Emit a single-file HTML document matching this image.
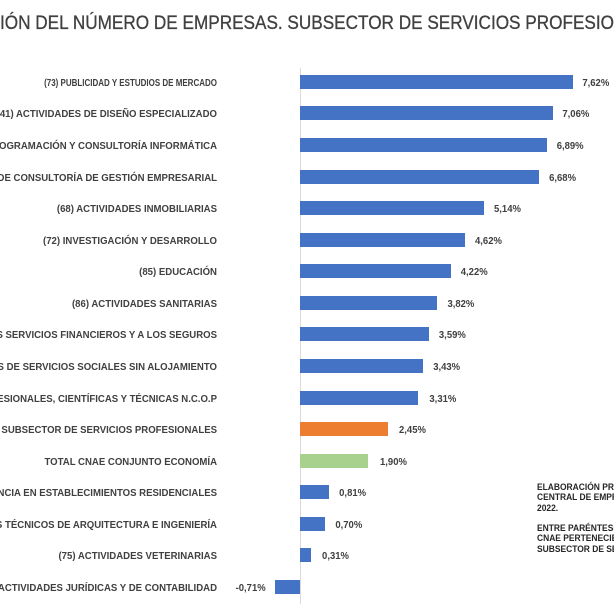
<!DOCTYPE html>
<html><head><meta charset="utf-8"><style>
html,body{margin:0;padding:0;background:#fff;width:614px;height:614px;overflow:hidden}
svg{display:block;font-family:"Liberation Sans",sans-serif;font-weight:bold}
</style></head><body>
<svg width="614" height="614" viewBox="0 0 614 614">
<text x="0" y="29" font-size="19" fill="#404040" font-weight="normal" stroke="#404040" stroke-width="0.3" textLength="614" lengthAdjust="spacingAndGlyphs">IÓN DEL NÚMERO DE EMPRESAS. SUBSECTOR DE SERVICIOS PROFESIO</text>
<line x1="300.5" y1="68" x2="300.5" y2="604" stroke="#d9d9d9"/>
<g font-size="10" fill="#404040">
<g transform="translate(217,0) scale(0.8,1)" text-anchor="end">
<text x="0" y="86">(73) PUBLICIDAD Y ESTUDIOS DE MERCADO</text>
</g>
<g transform="translate(217,0) scale(0.96,1)" text-anchor="end">
<text x="0" y="117">(741) ACTIVIDADES DE DISEÑO ESPECIALIZADO</text>
<text x="0" y="149">(62) PROGRAMACIÓN Y CONSULTORÍA INFORMÁTICA</text>
<text x="0" y="181">(702) ACTIVIDADES DE CONSULTORÍA DE GESTIÓN EMPRESARIAL</text>
<text x="0" y="212">(68) ACTIVIDADES INMOBILIARIAS</text>
<text x="0" y="244">(72) INVESTIGACIÓN Y DESARROLLO</text>
<text x="0" y="275">(85) EDUCACIÓN</text>
<text x="0" y="307">(86) ACTIVIDADES SANITARIAS</text>
<text x="0" y="338">(66) ACTIVIDADES AUXILIARES A LOS SERVICIOS FINANCIEROS Y A LOS SEGUROS</text>
<text x="0" y="370">(88) ACTIVIDADES DE SERVICIOS SOCIALES SIN ALOJAMIENTO</text>
<text x="0" y="402">(74) OTRAS ACTIVIDADES PROFESIONALES, CIENTÍFICAS Y TÉCNICAS N.C.O.P</text>
<text x="0" y="433">TOTAL SUBSECTOR DE SERVICIOS PROFESIONALES</text>
<text x="0" y="465">TOTAL CNAE CONJUNTO ECONOMÍA</text>
<text x="0" y="496">(87) ASISTENCIA EN ESTABLECIMIENTOS RESIDENCIALES</text>
<text x="0" y="528">(71) SERVICIOS TÉCNICOS DE ARQUITECTURA E INGENIERÍA</text>
<text x="0" y="559">(75) ACTIVIDADES VETERINARIAS</text>
<text x="0" y="591">(69) ACTIVIDADES JURÍDICAS Y DE CONTABILIDAD</text>
</g>
<g fill="#4472c4">
<rect x="300" y="75" width="273" height="14"/>
<rect x="300" y="106" width="253" height="14"/>
<rect x="300" y="138" width="247" height="14"/>
<rect x="300" y="170" width="239" height="14"/>
<rect x="300" y="201" width="184" height="14"/>
<rect x="300" y="233" width="165" height="14"/>
<rect x="300" y="264" width="151" height="14"/>
<rect x="300" y="296" width="137" height="14"/>
<rect x="300" y="327" width="129" height="14"/>
<rect x="300" y="359" width="123" height="14"/>
<rect x="300" y="391" width="118" height="14"/>
<rect x="300" y="422" width="88" height="14" fill="#ed7d31"/>
<rect x="300" y="454" width="68" height="14" fill="#a9d18e"/>
<rect x="300" y="485" width="29" height="14"/>
<rect x="300" y="517" width="25" height="14"/>
<rect x="300" y="548" width="11" height="14"/>
<rect x="275" y="580" width="25" height="14"/>
</g>
<g transform="scale(0.95,1)">
<text x="613" y="86">7,62%</text>
<text x="592" y="117">7,06%</text>
<text x="586" y="149">6,89%</text>
<text x="578" y="181">6,68%</text>
<text x="520" y="212">5,14%</text>
<text x="500" y="244">4,62%</text>
<text x="485" y="275">4,22%</text>
<text x="471" y="307">3,82%</text>
<text x="462" y="338">3,59%</text>
<text x="456" y="370">3,43%</text>
<text x="452" y="402">3,31%</text>
<text x="420" y="433">2,45%</text>
<text x="400" y="465">1,90%</text>
<text x="357" y="496">0,81%</text>
<text x="353" y="528">0,70%</text>
<text x="339" y="559">0,31%</text>
<text x="248" y="591">-0,71%</text>
</g>
</g>
<g font-size="9" fill="#262626" transform="translate(537,0) scale(0.94,1)">
<text x="0" y="490">ELABORACIÓN PROPIA A PARTIR DEL DIRECTORIO</text>
<text x="0" y="500">CENTRAL DE EMPRESAS (DIRCE) DEL INE 2017-</text>
<text x="0" y="511">2022.</text>
<text x="0" y="531">ENTRE PARÉNTESIS SE INDICAN LAS DIVISIONES</text>
<text x="0" y="541">CNAE PERTENECIENTES AL</text>
<text x="0" y="552">SUBSECTOR DE SERVICIOS PROFESIONALES</text>
</g>
</svg>
</body></html>
